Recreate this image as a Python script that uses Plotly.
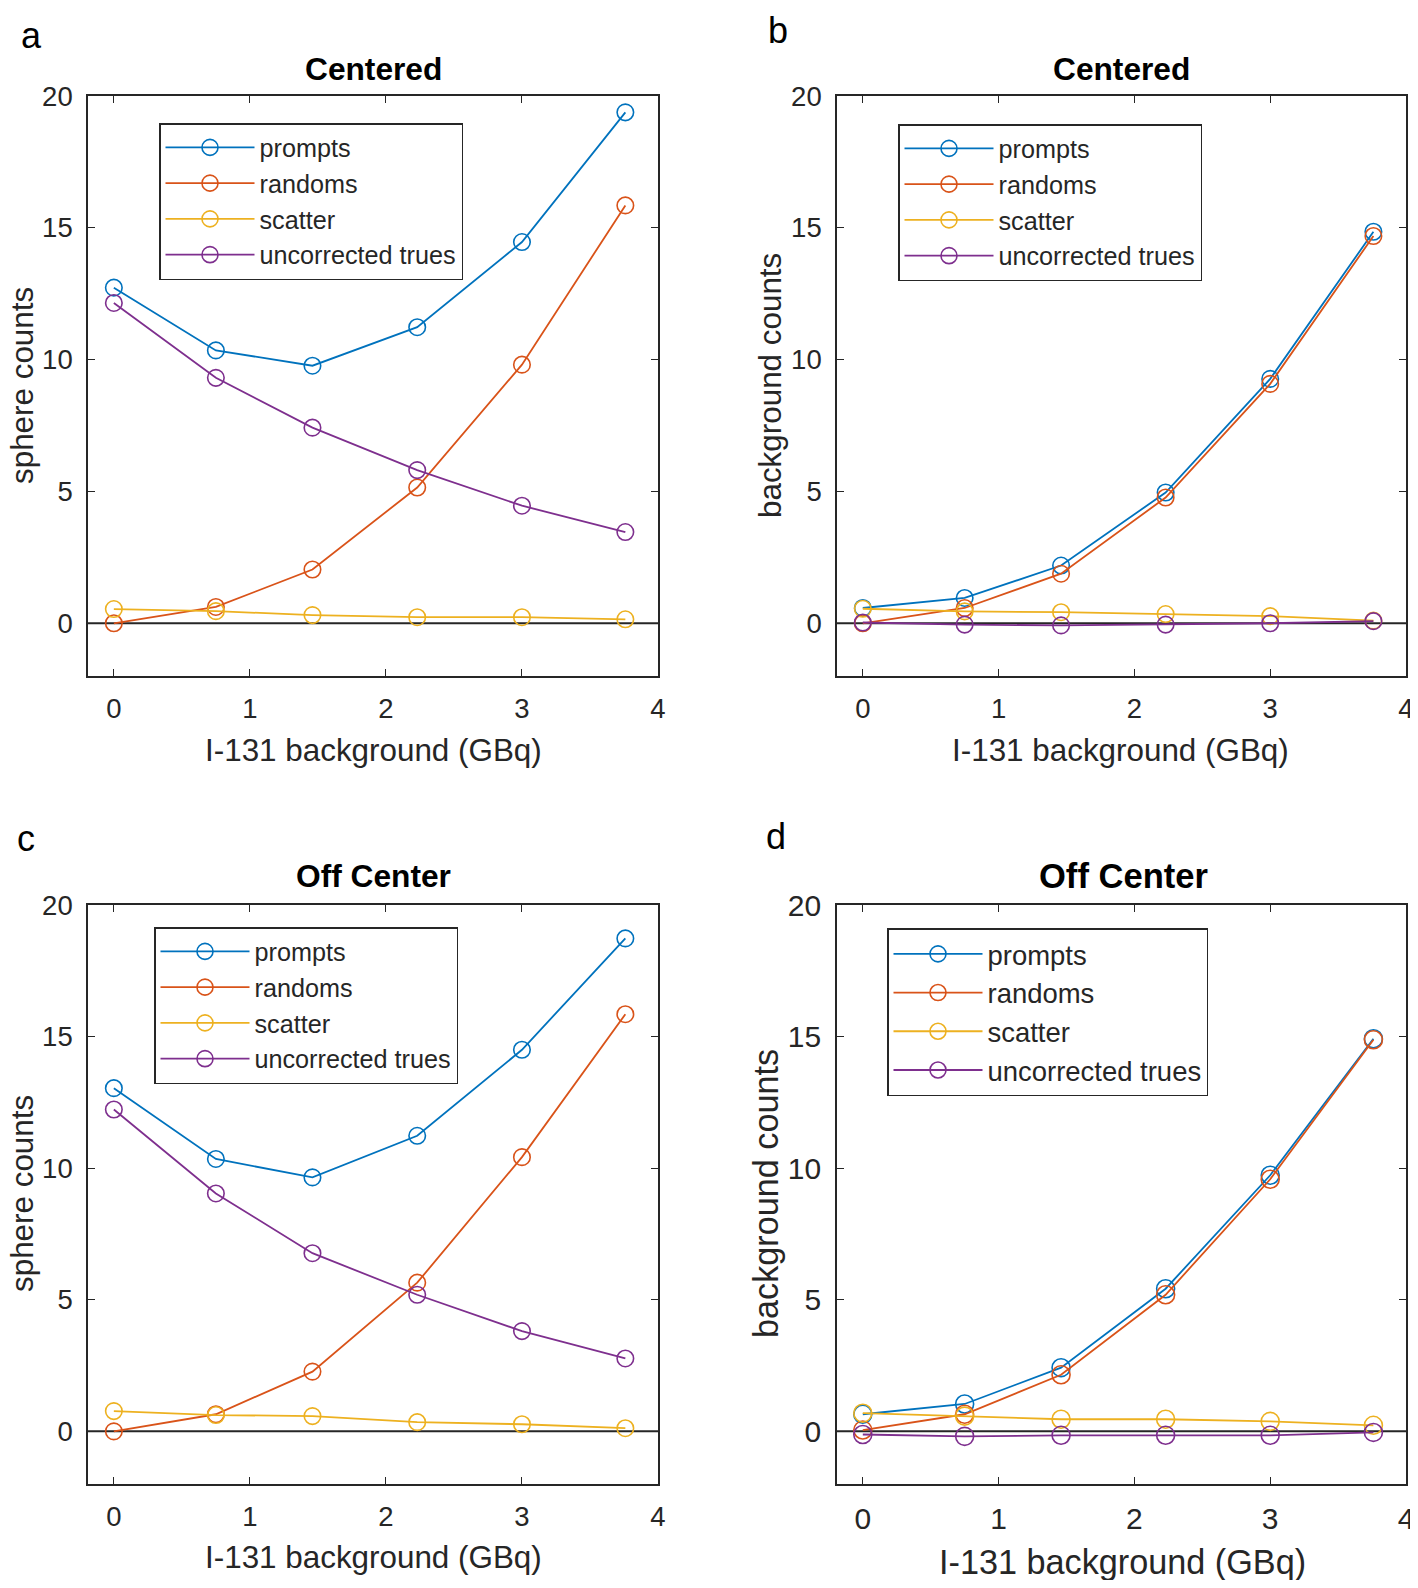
import plotly.graph_objects as go

PAGE_W, PAGE_H = 1418, 1588
OFF = 8  # page body margin compensation
W, H = PAGE_W - OFF, PAGE_H - 2 * OFF

# ---------------- data ----------------
activity = [0, 0.75, 1.46, 2.23, 3.0, 3.76]  # I-131 background (GBq)
series_names = ["prompts", "randoms", "scatter", "uncorrected trues"]

a_prompts = [12.73, 10.35, 9.77, 11.23, 14.46, 19.38]
a_randoms = [0.0, 0.62, 2.04, 5.15, 9.81, 15.85]
a_scatter = [0.54, 0.46, 0.31, 0.23, 0.23, 0.15]
a_trues = [12.15, 9.31, 7.42, 5.81, 4.46, 3.46]

b_prompts = [0.58, 0.96, 2.19, 4.96, 9.27, 14.85]
b_randoms = [0.0, 0.58, 1.88, 4.77, 9.08, 14.69]
b_scatter = [0.55, 0.45, 0.42, 0.35, 0.27, 0.10]
b_trues = [0.03, -0.05, -0.08, -0.05, 0.0, 0.08]

c_prompts = [13.04, 10.35, 9.65, 11.23, 14.50, 18.73]
c_randoms = [0.0, 0.65, 2.27, 5.65, 10.42, 15.85]
c_scatter = [0.77, 0.62, 0.58, 0.35, 0.27, 0.12]
c_trues = [12.23, 9.04, 6.77, 5.19, 3.81, 2.77]

d_prompts = [0.65, 1.04, 2.42, 5.42, 9.73, 14.92]
d_randoms = [0.05, 0.65, 2.15, 5.19, 9.58, 14.88]
d_scatter = [0.69, 0.58, 0.46, 0.46, 0.38, 0.23]
d_trues = [-0.12, -0.19, -0.15, -0.15, -0.15, -0.04]

panel_letters = ["a", "b", "c", "d"]
panel_titles = ["Centered", "Centered", "Off Center", "Off Center"]
y_titles = ["sphere counts", "background counts", "sphere counts", "background counts"]
x_title = "I-131 background (GBq)"
x_ticks = [0, 1, 2, 3, 4]
y_ticks = [0, 5, 10, 15, 20]

colors = ["#0072BD", "#D95319", "#EDB120", "#7E2F8E"]
AX = "#262626"
FONT = "Liberation Sans, Arial, sans-serif"

panels = [
    [a_prompts, a_randoms, a_scatter, a_trues],
    [b_prompts, b_randoms, b_scatter, b_trues],
    [c_prompts, c_randoms, c_scatter, c_trues],
    [d_prompts, d_randoms, d_scatter, d_trues],
]

# ---------------- layout geometry (page pixels) ----------------
px_x = [(88, 658), (837, 1406), (88, 658), (837, 1406)]
px_y = [(96, 676), (96, 676), (905, 1484), (905, 1484)]
scale = [1.0, 1.0, 1.0, 1.09]
legend_pos = [(159, 123), (898, 124), (154, 927), (887, 928)]
title_pos = [(373, 69), (1121, 69), (373, 876), (1123, 876)]
xlab_pos = [(373, 750), (1120, 750), (373, 1557), (1122, 1562)]
ylab_pos = [(22, 386), (770, 386), (22, 1194), (766, 1194)]
letter_pos = [(31, 35), (778, 30), (26, 838), (776, 836)]


def px(x):
    return (x - OFF) / W


def py(y):
    return 1 - (y - OFF) / H


fig = go.Figure()
annotations = []
shapes = []
layout = {}

for i in range(4):
    s = scale[i]
    ax_suffix = "" if i == 0 else str(i + 1)
    xa, ya = "x" + ax_suffix, "y" + ax_suffix
    leg = "legend" if i == 0 else "legend" + str(i + 1)
    for k in range(4):
        fig.add_trace(go.Scatter(
            x=activity, y=panels[i][k], name=series_names[k],
            mode="lines+markers", xaxis=xa, yaxis=ya, legend=leg,
            line=dict(color=colors[k], width=1.8),
            marker=dict(symbol="circle-open", size=16.5 * s, color=colors[k],
                        line=dict(width=1.6, color=colors[k])),
        ))
    common = dict(showline=True, linecolor=AX, linewidth=1.6, mirror="ticks",
                  ticks="inside", ticklen=7, tickcolor=AX, tickwidth=1.3,
                  showgrid=False, zeroline=False, automargin=False,
                  tickfont=dict(family=FONT, size=27.5 * s, color=AX))
    layout["xaxis" + ax_suffix] = dict(
        domain=[px(px_x[i][0]), px(px_x[i][1])], range=[-0.19, 4],
        tickvals=x_ticks, anchor=ya, ticklabelstandoff=7, **common)
    layout["yaxis" + ax_suffix] = dict(
        domain=[py(px_y[i][1]), py(px_y[i][0])], range=[-2, 20],
        tickvals=y_ticks, anchor=xa, ticklabelstandoff=8, **common)
    layout[leg] = dict(
        x=px(legend_pos[i][0]), y=py(legend_pos[i][1]), xanchor="left", yanchor="top",
        bgcolor="white", bordercolor=AX, borderwidth=1.5,
        font=dict(family=FONT, size=25.2 * s, color=AX), itemwidth=89,
        tracegroupgap=0)
    shapes.append(dict(type="line", xref=xa + " domain", yref=ya, x0=0, x1=1, y0=0, y1=0,
                       line=dict(color=AX, width=2), layer="below"))
    annotations.append(dict(text="<b>" + panel_titles[i] + "</b>", x=px(title_pos[i][0]),
                            y=py(title_pos[i][1]), xref="paper", yref="paper",
                            showarrow=False, xanchor="center", yanchor="middle",
                            font=dict(family=FONT, size=31.7 * s, color="black")))
    annotations.append(dict(text=x_title, x=px(xlab_pos[i][0]), y=py(xlab_pos[i][1]),
                            xref="paper", yref="paper", showarrow=False,
                            xanchor="center", yanchor="middle",
                            font=dict(family=FONT, size=31.4 * s, color=AX)))
    annotations.append(dict(text=y_titles[i], x=px(ylab_pos[i][0]), y=py(ylab_pos[i][1]),
                            xref="paper", yref="paper", showarrow=False, textangle=-90,
                            xanchor="center", yanchor="middle",
                            font=dict(family=FONT, size=31.4 * s, color=AX)))
    annotations.append(dict(text=panel_letters[i], x=px(letter_pos[i][0]), y=py(letter_pos[i][1]),
                            xref="paper", yref="paper", showarrow=False,
                            xanchor="center", yanchor="middle",
                            font=dict(family=FONT, size=36, color="black")))

fig.update_layout(
    template="none",
    width=W, height=H, margin=dict(l=0, r=0, t=0, b=0, pad=0, autoexpand=False),
    paper_bgcolor="white", plot_bgcolor="white", showlegend=True,
    annotations=annotations, shapes=shapes, **layout)

fig.write_html("out.html")
